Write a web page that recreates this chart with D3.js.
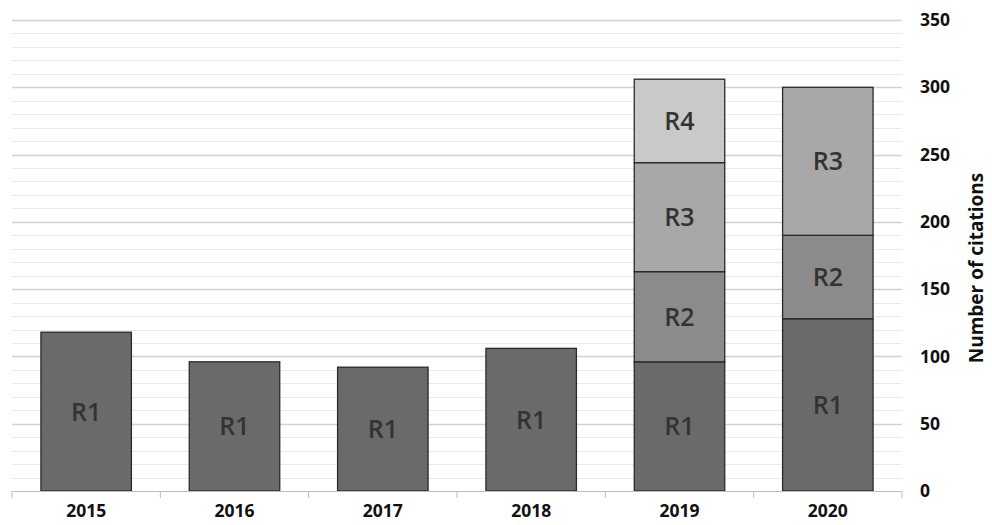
<!DOCTYPE html>
<html><head><meta charset="utf-8">
<script src="https://cdn.jsdelivr.net/npm/d3@7/dist/d3.min.js"></script>
<style>body{margin:0;background:#fff}svg{display:block}</style>
</head><body><svg id="c" width="992" height="525"></svg>
<script>
const years = ["2015","2016","2017","2018","2019","2020"];
const seriesNames = ["R1","R2","R3","R4"];
const r1 = [118, 96, 92, 106, 96, 128];
const r2 = [0, 0, 0, 0, 67, 62];
const r3 = [0, 0, 0, 0, 81, 110];
const r4 = [0, 0, 0, 0, 62, 0];
const yTicks = [0, 50, 100, 150, 200, 250, 300, 350];
const axisTitle = "Number of citations";
const colors = ["#6a6a6a", "#8b8b8b", "#a8a8a8", "#c9c9c9"];

const rows = years.map((y, i) => ({year: y, R1: r1[i], R2: r2[i], R3: r3[i], R4: r4[i]}));
const svg = d3.select("#c");
const L = 12, R = 902, T = 20, B = 491;
const x = d3.scaleBand().domain(years).range([L, R]).paddingInner(0.39).paddingOuter(0.195);
const y = d3.scaleLinear().domain([0, 350]).range([B, T]);
const font = "'Open Sans', 'DejaVu Sans', sans-serif";

// gridlines
const grid = d3.range(10, 351, 10);
svg.append("g").selectAll("line").data(grid).join("line")
  .attr("x1", L).attr("x2", R)
  .attr("y1", d => Math.round(y(d)) + 0.5).attr("y2", d => Math.round(y(d)) + 0.5)
  .attr("stroke", d => d % 50 === 0 ? "#d2d2d2" : "#e9e9e9")
  .attr("stroke-width", d => d % 50 === 0 ? 1.5 : 1);

// stacked bars
const stack = d3.stack().keys(seriesNames)(rows);
const g = svg.append("g");
stack.forEach((s, si) => {
  g.selectAll(null).data(s.filter(d => d[1] - d[0] > 0)).join("rect")
    .attr("x", d => x(d.data.year)).attr("width", x.bandwidth())
    .attr("y", d => y(d[1])).attr("height", d => y(d[0]) - y(d[1]))
    .attr("fill", colors[si]).attr("stroke", "#2a2a2a").attr("stroke-width", 1.3);
  g.selectAll(null).data(s.filter(d => d[1] - d[0] > 0)).join("text")
    .attr("x", d => x(d.data.year) + x.bandwidth() / 2)
    .attr("y", d => y((d[0] + d[1]) / 2))
    .attr("dy", "0.36em").attr("text-anchor", "middle")
    .attr("font-family", font).attr("font-weight", 600).attr("font-size", 25)
    .attr("fill", "#333").text(seriesNames[si]);
});

// x axis
const xAxis = d3.axisBottom(x).tickSize(0).tickPadding(14);
const xg = svg.append("g").attr("transform", `translate(0,${B})`).call(xAxis);
xg.select(".domain").remove();
xg.append("line").attr("x1", L).attr("x2", R).attr("y1", 0.5).attr("y2", 0.5).attr("stroke", "#bdbdbd").attr("stroke-width", 1.2);
xg.selectAll(null).data(d3.range(years.length + 1)).join("line")
  .attr("x1", i => L + i * (R - L) / years.length).attr("x2", i => L + i * (R - L) / years.length)
  .attr("y1", 0).attr("y2", 7).attr("stroke", "#bdbdbd");
xg.selectAll("text").attr("font-family", font).attr("font-weight", "bold").attr("font-size", 17.5).attr("fill", "#111");

// y axis (right)
const yAxis = d3.axisRight(y).tickValues(yTicks).tickSize(0).tickPadding(18);
const yg = svg.append("g").attr("transform", `translate(${R},0)`).call(yAxis);
yg.select(".domain").remove();
yg.selectAll("text").attr("font-family", font).attr("font-weight", "bold").attr("font-size", 17.5).attr("fill", "#111");

svg.append("text").attr("transform", `translate(977,${268}) rotate(-90)`)
  .attr("text-anchor", "middle").attr("dy", "0.3em").attr("font-family", font).attr("font-weight", "bold")
  .attr("font-size", 19).attr("fill", "#111").text(axisTitle);
</script></body></html>
